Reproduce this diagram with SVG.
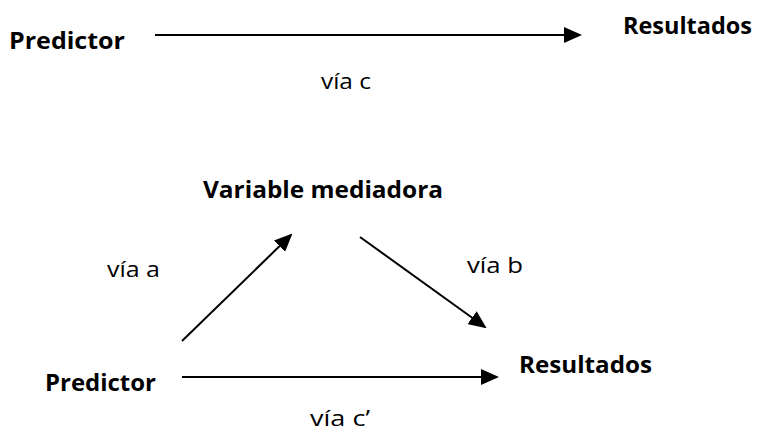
<svg xmlns="http://www.w3.org/2000/svg" width="758" height="432" viewBox="0 0 758 432">
<style>
.b{font-family:"Open Sans","Liberation Sans",sans-serif;font-weight:bold;font-size:24px;fill:#000}
.r{font-family:"Open Sans","Liberation Sans",sans-serif;font-size:22px;fill:#000}
.c{stroke:#000;stroke-width:2;fill:none}
</style>
<defs>
<marker id="ah" markerWidth="9" markerHeight="8" refX="8" refY="4" orient="auto" markerUnits="strokeWidth">
<path d="M0,0 L9,4 L0,8 Z" fill="#000"/>
</marker>
</defs>
<rect width="758" height="432" fill="#fff"/>
<g id="predictor1"><text class="b" x="9" y="49" textLength="116" lengthAdjust="spacingAndGlyphs">Predictor</text></g>
<g id="resultados1"><text class="b" x="623" y="34" textLength="129" lengthAdjust="spacingAndGlyphs">Resultados</text></g>
<g id="mediadora"><text class="b" x="203" y="198" textLength="240" lengthAdjust="spacingAndGlyphs">Variable mediadora</text></g>
<g id="predictor2"><text class="b" x="45" y="391" textLength="111" lengthAdjust="spacingAndGlyphs">Predictor</text></g>
<g id="resultados2"><text class="b" x="519" y="373" textLength="133" lengthAdjust="spacingAndGlyphs">Resultados</text></g>
<g id="connectors">
<line class="c" x1="155" y1="35" x2="580" y2="35" marker-end="url(#ah)"/>
<line class="c" x1="182" y1="341" x2="291" y2="235" marker-end="url(#ah)"/>
<line class="c" x1="360" y1="237" x2="485" y2="327" marker-end="url(#ah)"/>
<line class="c" x1="182" y1="377" x2="497" y2="377" marker-end="url(#ah)"/>
</g>
<g id="labels">
<text class="r" x="321" y="89" textLength="50" lengthAdjust="spacingAndGlyphs">vía c</text>
<text class="r" x="107" y="277" textLength="53" lengthAdjust="spacingAndGlyphs">vía a</text>
<text class="r" x="467" y="273" textLength="56" lengthAdjust="spacingAndGlyphs">vía b</text>
<text class="r" x="310" y="426" textLength="60" lengthAdjust="spacingAndGlyphs">vía c’</text>
</g>
</svg>
